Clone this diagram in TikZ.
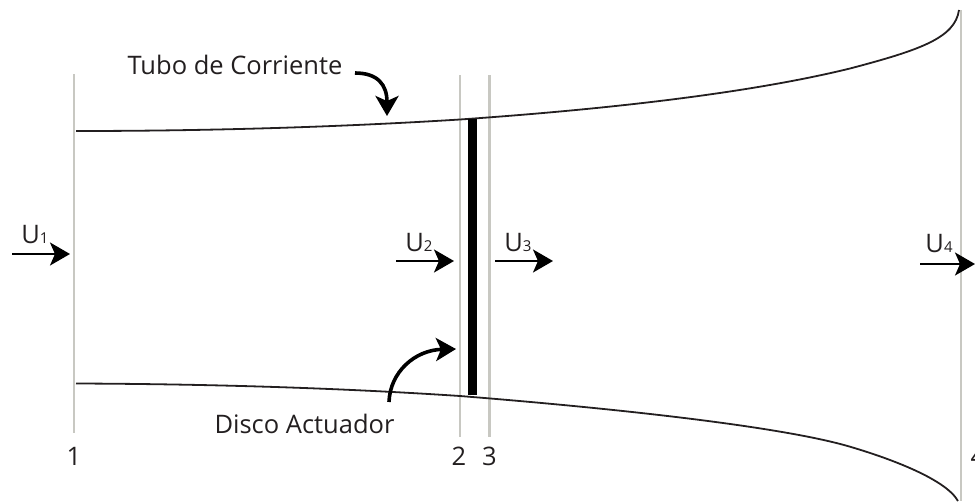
\documentclass[tikz,border=0pt]{standalone}
\usepackage{fontspec}
\setmainfont{Open Sans}
\usetikzlibrary{positioning,arrows.meta}
\definecolor{cSection}{HTML}{C8C8C2}
\definecolor{cText}{HTML}{231F20}
\tikzset{
  section/.style={draw=cSection,line width=2.4pt},
  tube/.style={draw=cText,line width=1.8pt},
  disc/.style={draw=black,line width=9.5pt},
  arr/.style={-{Stealth[length=20pt,width=23pt,inset=5pt]},line width=2pt,black},
  carr/.style={-{Stealth[length=20pt,width=23pt,inset=5pt]},line width=3.6pt,black},
  lbl/.style={font=\fontsize{25.5}{30}\selectfont,text=cText,inner sep=0pt,anchor=base}}
\newcommand{\ulabel}[1]{U{\fontsize{15}{18}\selectfont #1}}

\begin{document}
\begin{tikzpicture}[x=1pt,y=-1pt]
\useasboundingbox (0,0) rectangle (975,501);
% sections
\coordinate (s1t) at (74,74); \coordinate (s1b) at (74,433);
\coordinate (s2t) at (460,75); \coordinate (s2b) at (460,437);
\coordinate (s3t) at (489.5,75); \coordinate (s3b) at (489.5,437);
\coordinate (s4t) at (961,10); \coordinate (s4b) at (961,501);
\draw[section] (s1t)--(s1b); \draw[section] (s2t)--(s2b);
\draw[section] (s3t)--(s3b); \draw[section] (s4t)--(s4b);
% tube
\coordinate (ta) at (76,131); \coordinate (tb) at (460,119.5); \coordinate (tc) at (850,68.5); \coordinate (td) at (959,10);
\coordinate (ba) at (76,383.5); \coordinate (bb) at (460,396); \coordinate (bc) at (850,446.7); \coordinate (bd) at (958,501);
\draw[tube] (ta) .. controls (210,131) and (340,127) .. (tb)
  .. controls (610,109) and (750,93) .. (tc)
  .. controls (920,50) and (955,38) .. (td);
\draw[tube] (ba) .. controls (210,384) and (340,388) .. (bb)
  .. controls (610,408) and (780,426) .. (bc)
  .. controls (885,457) and (945,478) .. (bd);
% disc
\coordinate (dt) at (472.7,119); \coordinate (db) at (472.7,395);
\draw[disc] (dt)--(db);
% velocities
\coordinate (u1a) at (12,254); \coordinate (u1b) at (70,254);
\coordinate (u2a) at (396,261); \coordinate (u2b) at (454,261);
\coordinate (u3a) at (495,261); \coordinate (u3b) at (553,261);
\coordinate (u4a) at (920,264); \coordinate (u4b) at (975,264);
\draw[arr] (u1a)--(u1b); \draw[arr] (u2a)--(u2b);
\draw[arr] (u3a)--(u3b); \draw[arr] (u4a)--(u4b);
\node[lbl] (u1) at (35,243) {\ulabel{1}};
\node[lbl] (u2) at (419,251) {\ulabel{2}};
\node[lbl] (u3) at (518,251) {\ulabel{3}};
\node[lbl] (u4) at (939,252) {\ulabel{4}};
% names
\node[lbl] (tubo) at (235,74) {Tubo de Corriente};
\node[lbl] (act) at (304.5,433) {Disco Actuador};
\coordinate (tubos) at (355,73); \coordinate (tuboe) at (387,116);
\coordinate (acts) at (389,402); \coordinate (acte) at (456,349);
\draw[carr] (tubos) .. controls (378,73) and (387,85) .. (tuboe);
\draw[carr] (acts) .. controls (390,372) and (415,350) .. (acte);
% numbers
\node[lbl] (n1) at (74,465) {1};
\node[lbl] (n2) at (459,465) {2};
\node[lbl] (n3) at (489.5,465) {3};
\node[lbl] (n4) at (978,465) {4};
\end{tikzpicture}
\end{document}
